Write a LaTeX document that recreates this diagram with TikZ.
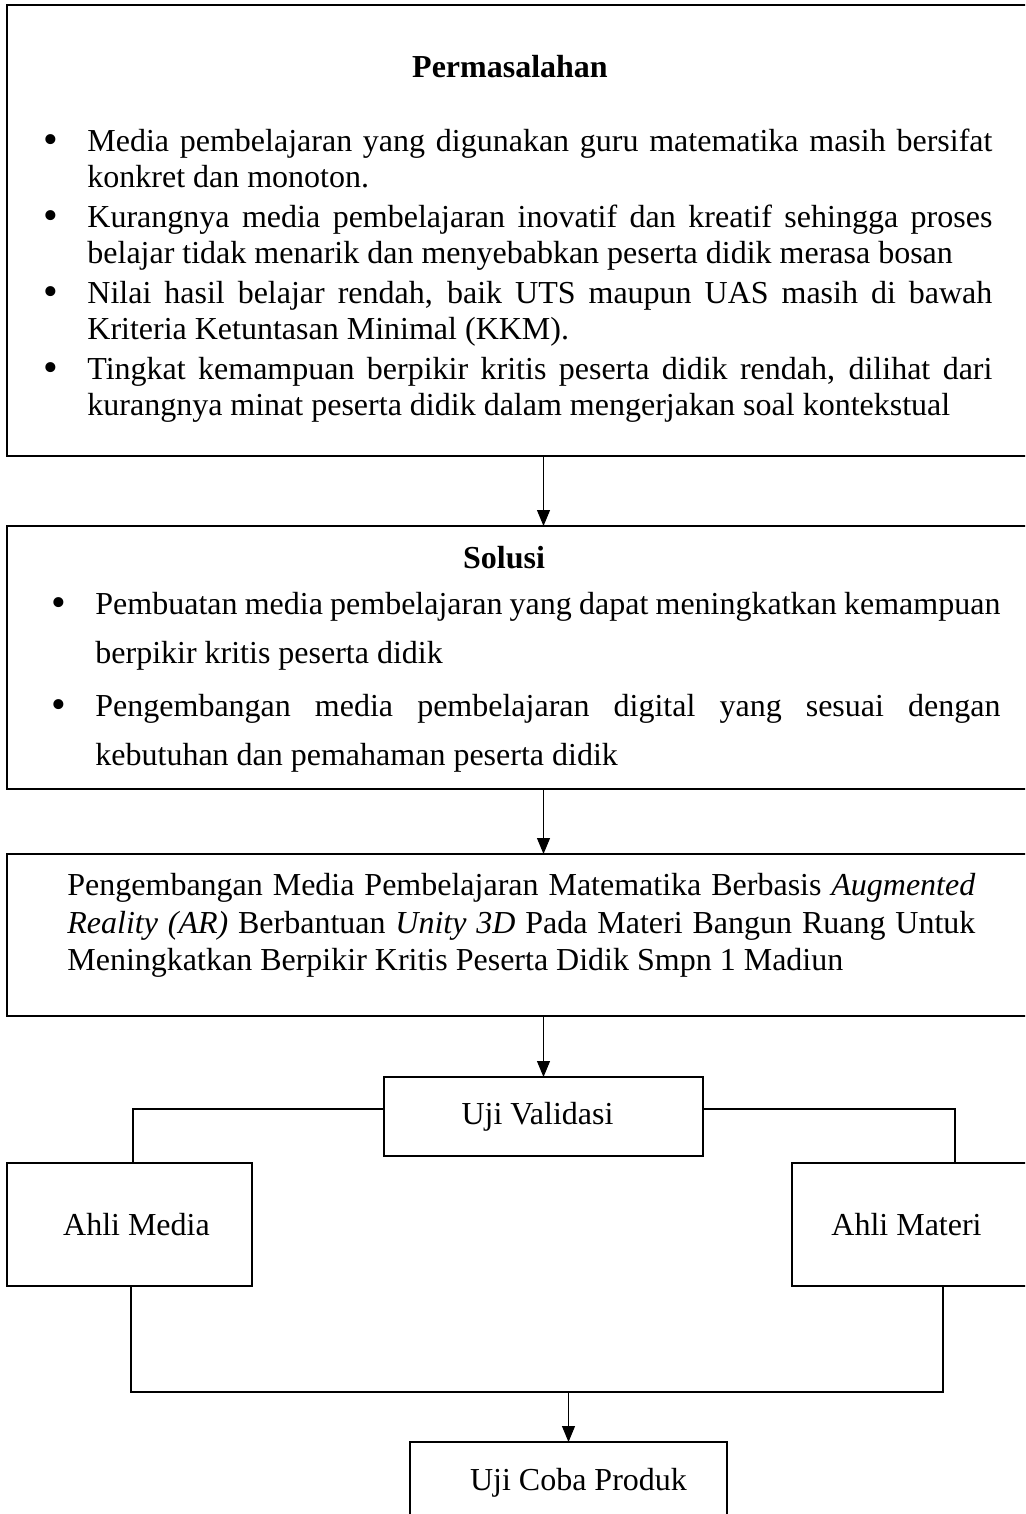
\documentclass[tikz,border=0pt]{standalone}
\usepackage{fontspec}
\setmainfont{Liberation Serif}
\usepackage{tikz}
\usetikzlibrary{arrows.meta, positioning}
\definecolor{mydark}{RGB}{0,0,0}
\newcommand{\butir}{\par\noindent\llap{\makebox[22pt][l]{\raisebox{-1pt}{\fontsize{21}{21}\selectfont\textbullet}}}}
\tikzset{
  block/.style={rectangle, draw=mydark, line width=1.1pt, anchor=north west,
    inner sep=0pt, outer sep=0pt},
  smallblock/.style={block, font=\fontsize{16}{18}\selectfont},
  heading/.style={font=\fontsize{16}{18}\selectfont\bfseries, inner sep=0pt},
  listtext/.style={anchor=north west, inner sep=0pt, align=justify,
    font=\fontsize{16}{18}\selectfont,
    execute at begin node={\parskip=2pt\tolerance=9999\hyphenpenalty=10000}},
  arrow/.style={-{Triangle[length=8pt,width=6.5pt]}, line width=0.5pt, color=mydark},
  line/.style={line width=1pt, color=mydark}
}
\begin{document}
\begin{tikzpicture}[x=0.5pt, y=-0.5pt]
  \useasboundingbox (0,0) rectangle (1025,1514);
  \clip (0,0) rectangle (1025,1514);
  % Main column of boxes
  \node[block, minimum width=536.5pt, minimum height=225.5pt] (masalah) at (7,5) {};
  \node[block, minimum width=536.5pt, minimum height=131.5pt] (solusi) at (7,526) {};
  \node[block, minimum width=536.5pt, minimum height=81pt] (judul) at (7,854) {};

  % Permasalahan
  \node[heading] (tmasalah) at (510,67) {Permasalahan};
  \node[listtext, text width=452.5pt] (imasalah) at (87,111) {%
    \butir Media pembelajaran yang digunakan guru matematika masih bersifat\linebreak konkret dan monoton.
    \butir Kurangnya media pembelajaran inovatif dan kreatif sehingga proses\linebreak belajar tidak menarik dan menyebabkan peserta didik merasa bosan
    \butir Nilai hasil belajar rendah, baik UTS maupun UAS masih di bawah\linebreak Kriteria Ketuntasan Minimal (KKM).
    \butir Tingkat kemampuan berpikir kritis peserta didik rendah, dilihat dari\linebreak kurangnya minat peserta didik dalam mengerjakan soal kontekstual};

  % Solusi
  \node[heading] (tsolusi) at (504,558) {Solusi};
  \node[listtext, text width=452.5pt, font=\fontsize{16}{24.5}\selectfont] (isolusi) at (95,561) {%
    \butir Pembuatan media pembelajaran yang dapat meningkatkan kemampuan\linebreak berpikir kritis peserta didik
    \butir Pengembangan media pembelajaran digital yang sesuai dengan\linebreak kebutuhan dan pemahaman peserta didik};

  % Judul penelitian
  \node[listtext, text width=454pt, font=\fontsize{16}{18.75}\selectfont] (ijudul) at (67,873) {%
    Pengembangan Media Pembelajaran Matematika Berbasis \textit{Augmented}\linebreak
    \textit{Reality (AR)} Berbantuan \textit{Unity 3D} Pada Materi Bangun Ruang Untuk\linebreak
    Meningkatkan Berpikir Kritis Peserta Didik Smpn 1 Madiun};

  % Validasi
  \node[smallblock, minimum width=159.5pt, minimum height=39.5pt] (validasi) at (384,1077) {Uji Validasi\hspace*{6pt}};
  \node[smallblock, minimum width=122.5pt, minimum height=61.5pt] (media) at (7,1163) {\hspace*{7pt}Ahli Media};
  \node[smallblock, minimum width=122.5pt, minimum height=61.5pt] (materi) at (792,1163) {Ahli Materi\hspace*{8pt}};
  \node[smallblock, minimum width=158.5pt, minimum height=41pt] (ujicoba) at (410,1442) {\hspace*{10pt}Uji Coba Produk};

  % Arrows
  \draw[arrow] (masalah.south) -- (solusi.north);
  \draw[arrow] (solusi.south) -- (judul.north);
  \draw[arrow] (judul.south) -- (validasi.north);

  % Branches to the experts
  \coordinate (kiriatas) at (133,1109);
  \coordinate (kananatas) at (955,1109);
  \draw[line] (validasi.west |- kiriatas) -- (kiriatas) -- (kiriatas |- media.north);
  \draw[line] (validasi.east |- kananatas) -- (kananatas) -- (kananatas |- materi.north);

  % Join and trial
  \coordinate (kiribawah) at (131,1392);
  \coordinate (kananbawah) at (943,1392);
  \draw[line] (kiribawah |- media.south) -- (kiribawah) -- (kananbawah) -- (kananbawah |- materi.south);
  \draw[arrow] (ujicoba.north |- kiribawah) -- (ujicoba.north);
\end{tikzpicture}
\end{document}
